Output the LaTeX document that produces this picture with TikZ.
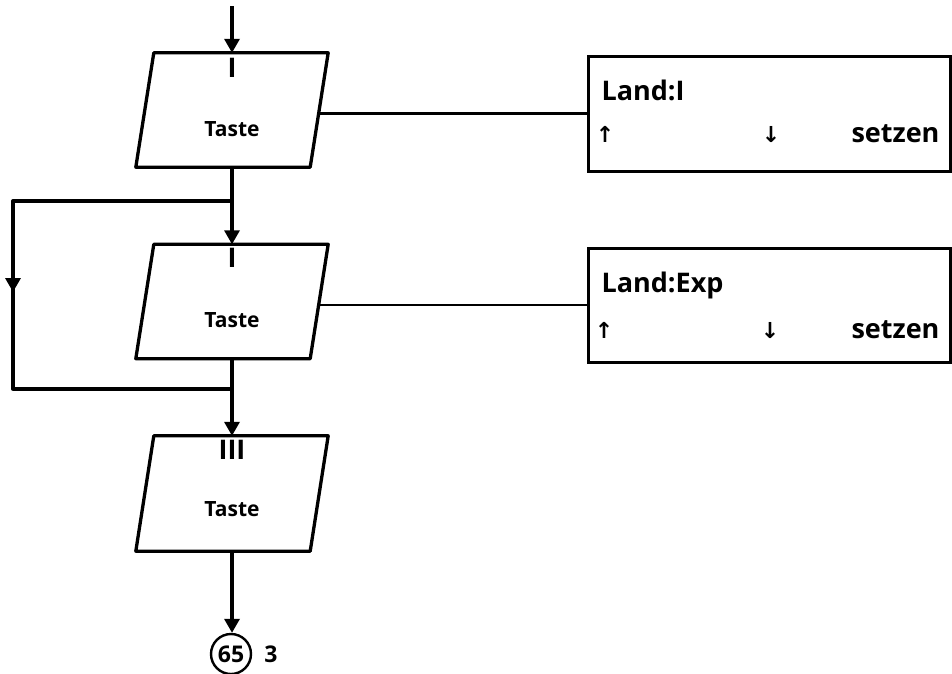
\documentclass[tikz,border=0pt]{standalone}
\usepackage{fontspec}
\setmainfont{Open Sans}
\newfontfamily\arrowfont{DejaVu Sans}
\usetikzlibrary{arrows.meta,calc}
\newcommand\drawpara[1]{\draw[ln,line join=round] ([xshift=9pt]#1.north west) -- ([xshift=9pt]#1.north east) -- ([xshift=-9pt]#1.south east) -- ([xshift=-9pt]#1.south west) -- cycle;}
\begin{document}
\begin{tikzpicture}[x=1pt,y=-1pt,
  ln/.style={line width=3.3pt},
  thin/.style={line width=2.4pt},
  arr/.style={ln,-{Triangle[width=15pt,length=14pt]}},
  pbox/.style={minimum width=174pt,minimum height=114pt,inner sep=0pt},
  rbox/.style={draw,line width=3pt,minimum width=362pt,inner sep=0pt},
  tastefont/.style={font=\bfseries\fontsize{21}{24}\selectfont},
  numfont/.style={font=\bfseries\fontsize{27}{30}\selectfont},
  boxfont/.style={font=\bfseries\fontsize{27}{30}\selectfont},
  arrfont/.style={font=\arrowfont\bfseries\fontsize{22}{26}\selectfont},
  cfont/.style={font=\bfseries\fontsize{23}{26}\selectfont}]
\useasboundingbox (0,0) rectangle (952,673);

% parallelograms
\node[pbox] (p1) at (232,110) {};
\node[pbox] (p2) at (232,301.5) {};
\node[pbox,minimum height=115pt] (p3) at (232,493.5) {};
\drawpara{p1}
\drawpara{p2}
\drawpara{p3}

\node[numfont] (r1) at (232,68) {I};
\node[numfont] (r2) at (232,258) {I};
\node[numfont] (r3) at (232,450) {III};
\node[tastefont] (t1) at (232,129) {Taste};
\node[tastefont] (t2) at (232,320) {Taste};
\node[tastefont] (t3) at (232,509) {Taste};

% right boxes
\node[rbox,minimum height=115pt] (b1) at (769,113.5) {};
\node[rbox,minimum height=114pt] (b2) at (769,305) {};
\node[boxfont,anchor=base west] (l1) at (598,100) {Land:I};
\node[boxfont,anchor=base west] (l2) at (598,292) {Land:Exp};
\node[arrfont,anchor=base] (u1) at (605,142) {↑};
\node[arrfont,anchor=base] (d1) at (771,142) {↓};
\node[boxfont,anchor=base east] (s1) at (943,142) {setzen};
\node[arrfont,anchor=base] (u2) at (604,338) {↑};
\node[arrfont,anchor=base] (d2) at (770,338) {↓};
\node[boxfont,anchor=base east] (s2) at (943,338) {setzen};

% connector
\node[circle,draw,line width=2.4pt,minimum size=40pt,inner sep=0pt,cfont] (c) at (231,654) {65};
\node[cfont] (n3) at (271,654) {3};

\coordinate (start) at (232,6);
\coordinate (br) at (232,201);
\coordinate (lt) at (13,201);
\coordinate (lm) at (13,292);
\coordinate (lb) at (13,389);
\coordinate (jn) at (232,389);

\draw[arr] (start) -- (p1.north);
\draw[arr] (p1.south) -- (p2.north);
\draw[ln,line join=round] (br) -- (lt) -- (lm);
\draw[arr] (lt) -- (lm);
\draw[ln,line join=round] (lm) -- (lb) -- (jn);
\draw[arr] (p2.south) -- (p3.north);
\draw[arr] (p3.south) -- (p3.south |- c.north);

\draw[thin] (p1.east |- b1.west) -- (b1.west);
\draw[thin] (p2.east |- b2.west) -- (b2.west);
\end{tikzpicture}
\end{document}
